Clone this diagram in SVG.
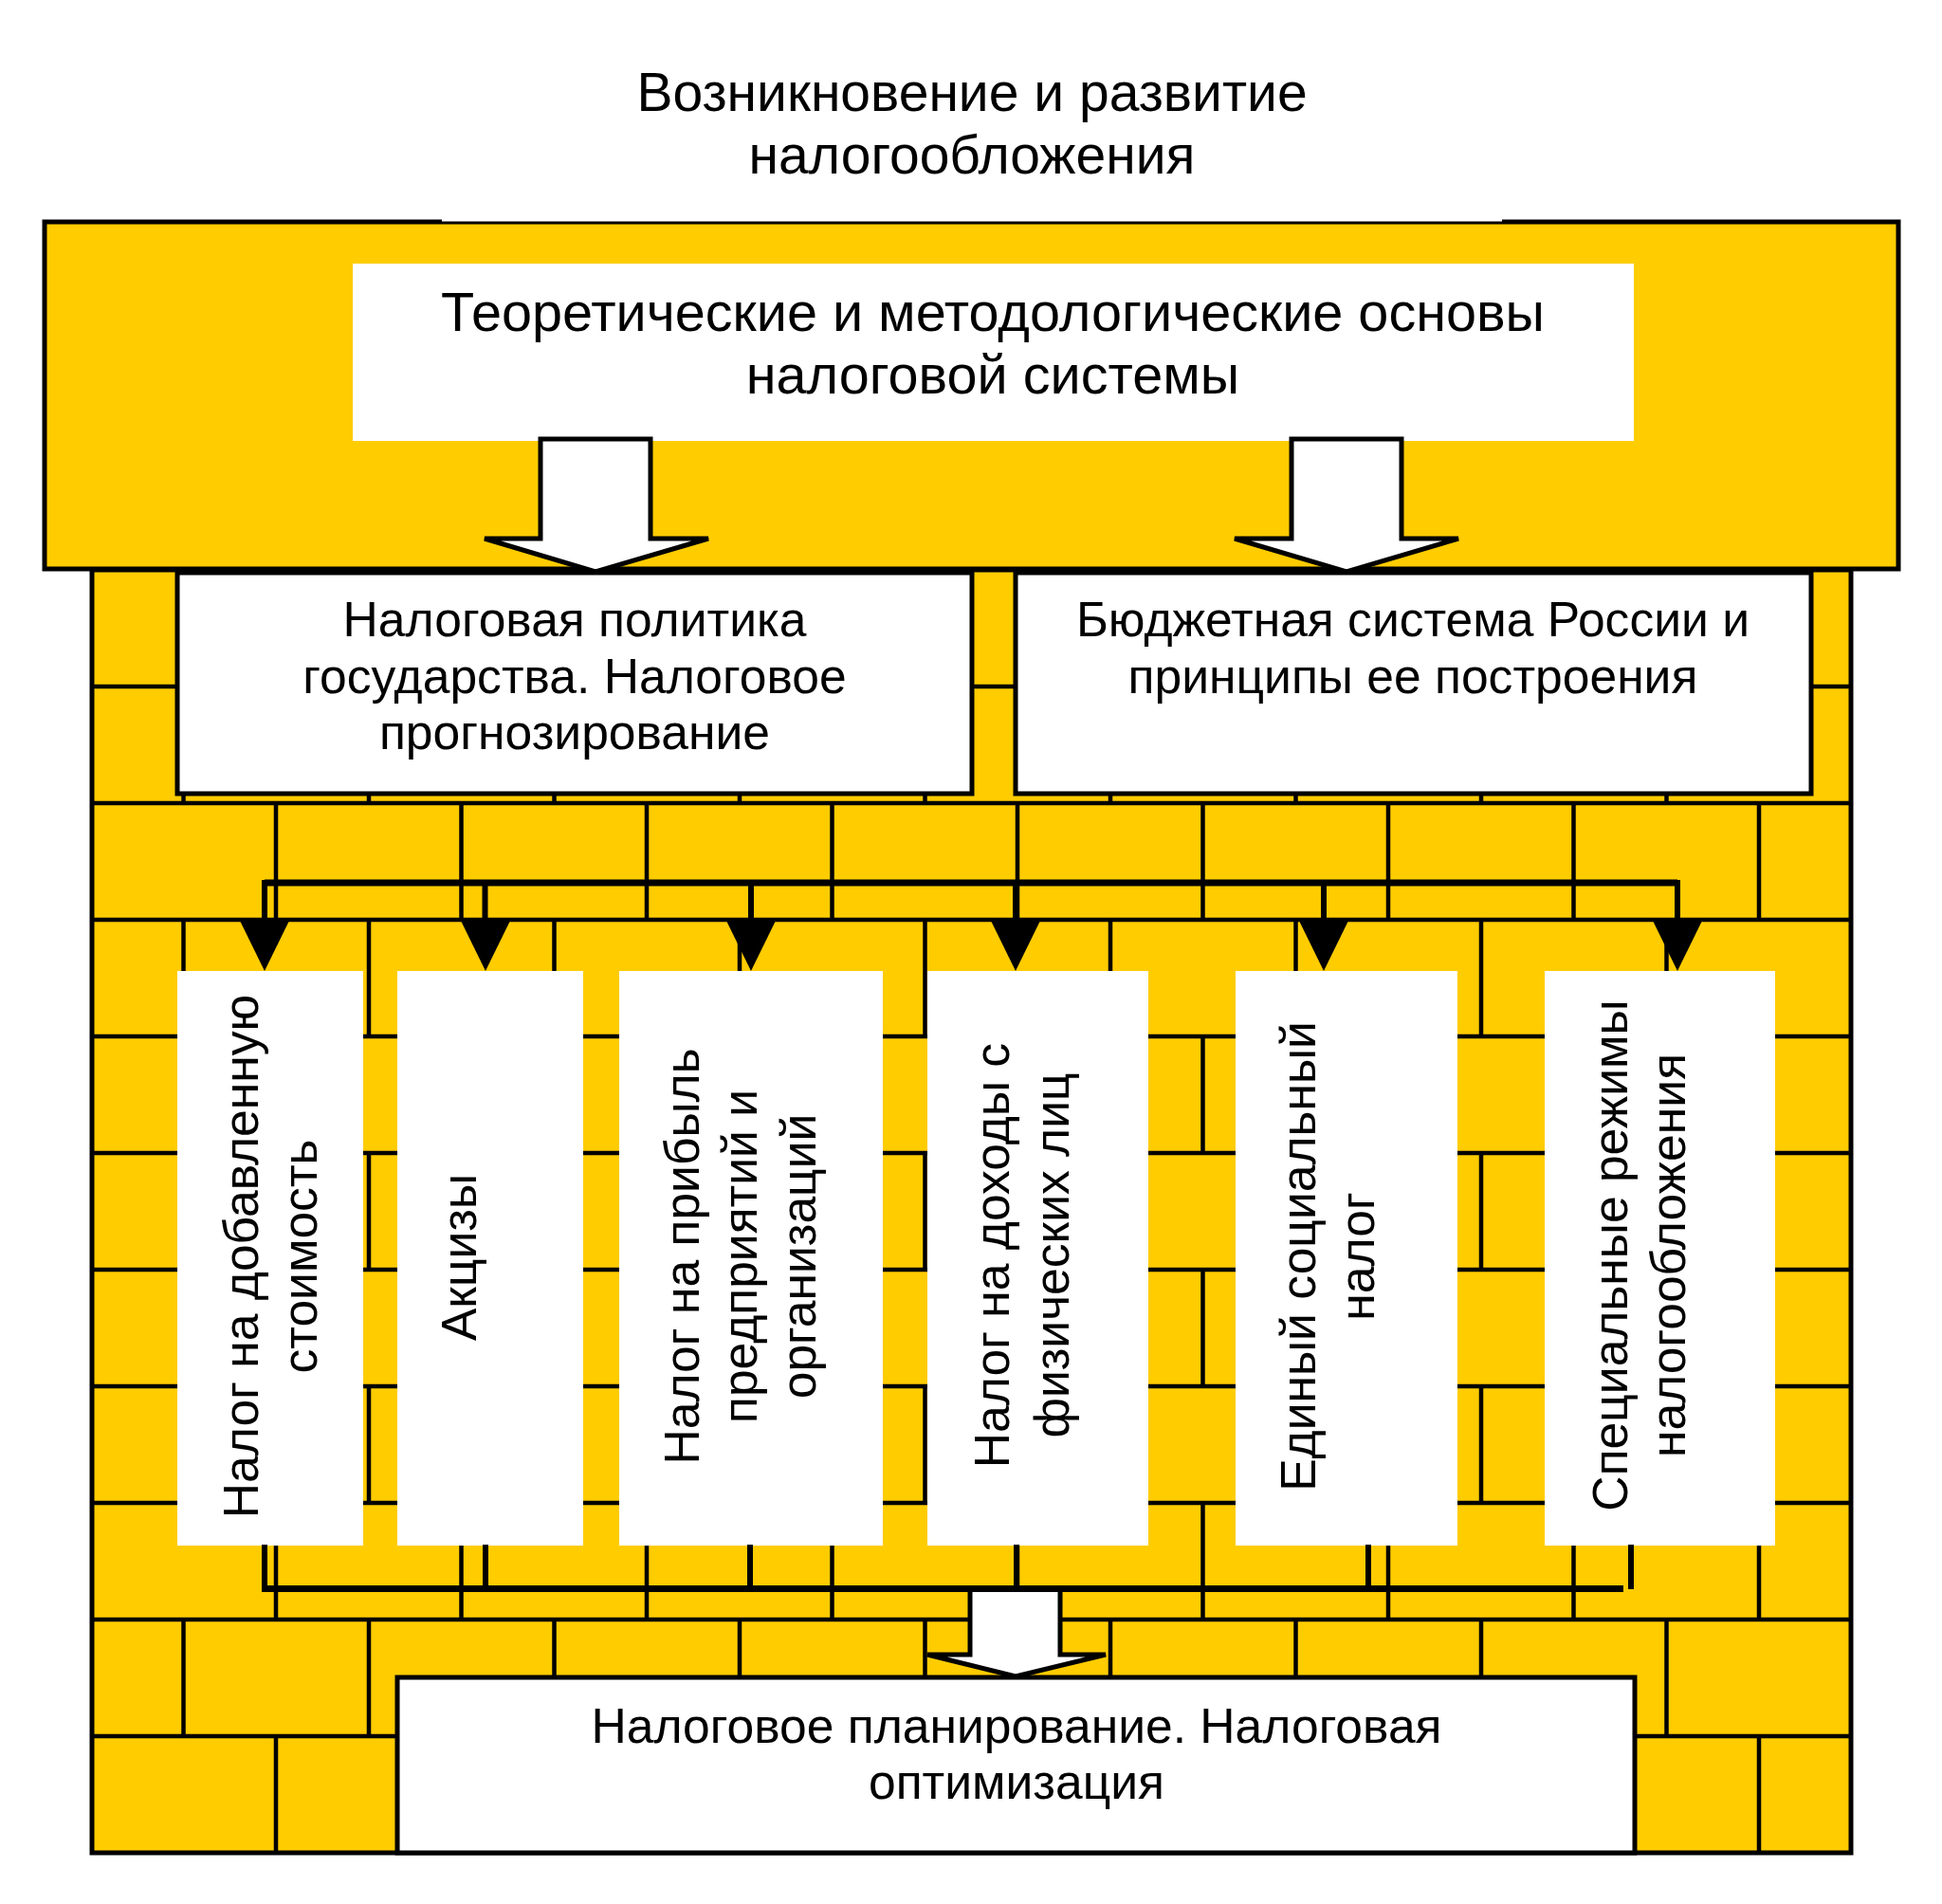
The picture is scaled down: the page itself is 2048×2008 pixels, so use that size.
<svg xmlns="http://www.w3.org/2000/svg" xmlns:xlink="http://www.w3.org/1999/xlink" width="2048" height="2008" viewBox="0 0 2048 2008">
  <style>
    .y { fill: #FFCC00; stroke: #000; stroke-width: 5; }
    .box { fill: #fff; stroke: #000; stroke-width: 5; }
    .plain { fill: #fff; stroke: none; }
    .mortar { fill: none; stroke: #000; stroke-width: 4.5; }
    .bus { fill: none; stroke: #000; stroke-width: 7; }
    .drop { fill: none; stroke: #000; stroke-width: 6; }
    .hollow { fill: #fff; stroke: #000; stroke-width: 5; stroke-linejoin: miter; }
    .head { fill: #000; stroke: none; }
    text { font-family: "Liberation Sans", Arial, sans-serif; fill: #000; text-anchor: middle; }
    .t56 { font-size: 57px; }
    .t57 { font-size: 57.6px; }
    .t51 { font-size: 51.6px; }
  </style>
  <defs>
    <path id="colB" d="M0 601V724M0 847V970M0 1093V1216M0 1339V1462M0 1585V1708M0 1831V1954"/>
    <path id="colA" d="M0 724V847M0 970V1093M0 1216V1339M0 1462V1585M0 1708V1831"/>
    <polygon id="tri" points="-26,971 26,971 0,1024"/>
  </defs>

  <rect x="0" y="0" width="2048" height="2008" fill="#fff"/>

  <g id="title">
    <text class="t56" x="1025" y="117">Возникновение и развитие</text>
    <text class="t56" x="1025" y="183">налогообложения</text>
  </g>

  <g id="wall">
    <rect class="y" x="97" y="601" width="1855" height="1353"/>
    <path class="mortar" d="M97 724H1952M97 847H1952M97 970H1952M97 1093H1952M97 1216H1952M97 1339H1952M97 1462H1952M97 1585H1952M97 1708H1952M97 1831H1952"/>
    <g class="mortar">
      <use xlink:href="#colB" x="291"/>
      <use xlink:href="#colB" x="486.5"/>
      <use xlink:href="#colB" x="682"/>
      <use xlink:href="#colB" x="877.5"/>
      <use xlink:href="#colB" x="1073"/>
      <use xlink:href="#colB" x="1268.5"/>
      <use xlink:href="#colB" x="1464"/>
      <use xlink:href="#colB" x="1659.5"/>
      <use xlink:href="#colB" x="1855"/>
      <use xlink:href="#colA" x="193.5"/>
      <use xlink:href="#colA" x="389"/>
      <use xlink:href="#colA" x="584.5"/>
      <use xlink:href="#colA" x="780"/>
      <use xlink:href="#colA" x="975.5"/>
      <use xlink:href="#colA" x="1171"/>
      <use xlink:href="#colA" x="1366.5"/>
      <use xlink:href="#colA" x="1562"/>
      <use xlink:href="#colA" x="1757.5"/>
    </g>
  </g>

  <g id="roof">
    <rect class="y" x="47" y="234" width="1955" height="366"/>
    <rect x="466" y="228" width="1118" height="5.5" fill="#fff"/>
  </g>

  <g id="osnovy">
    <rect class="plain" x="372" y="278" width="1351" height="187"/>
    <text class="t57" x="1047" y="349">Теоретические и методологические основы</text>
    <text class="t57" x="1047" y="415">налоговой системы</text>
  </g>

  <g id="politika">
    <rect class="box" x="187" y="604" width="838" height="233"/>
    <text class="t51" x="606" y="671">Налоговая политика</text>
    <text class="t51" x="606" y="731">государства. Налоговое</text>
    <text class="t51" x="606" y="790">прогнозирование</text>
  </g>

  <g id="byudzhet">
    <rect class="box" x="1071" y="604" width="839" height="233"/>
    <text class="t51" x="1490" y="671">Бюджетная система России и</text>
    <text class="t51" x="1490" y="731">принципы ее построения</text>
  </g>

  <g id="nds">
    <rect class="plain" x="187" y="1024" width="196" height="606"/>
    <text class="t51" transform="translate(0,1325) rotate(-90)"><tspan x="0" y="272">Налог на добавленную</tspan><tspan x="0" y="334">стоимость</tspan></text>
  </g>

  <g id="akcizy">
    <rect class="plain" x="419" y="1024" width="196" height="606"/>
    <text class="t51" transform="translate(0,1326) rotate(-90)"><tspan x="0" y="502">Акцизы</tspan></text>
  </g>

  <g id="pribyl">
    <rect class="plain" x="653" y="1024" width="278" height="606"/>
    <text class="t51" transform="translate(0,1325) rotate(-90)"><tspan x="0" y="737">Налог на прибыль</tspan><tspan x="0" y="798">предприятий и</tspan><tspan x="0" y="860">организаций</tspan></text>
  </g>

  <g id="ndfl">
    <rect class="plain" x="978" y="1024" width="233" height="606"/>
    <text class="t51" transform="translate(0,1324) rotate(-90)"><tspan x="0" y="1064">Налог на доходы с</tspan><tspan x="0" y="1127">физических лиц</tspan></text>
  </g>

  <g id="esn">
    <rect class="plain" x="1303" y="1024" width="234" height="606"/>
    <text class="t51" transform="translate(0,1325) rotate(-90)"><tspan x="0" y="1387">Единый социальный</tspan><tspan x="0" y="1449">налог</tspan></text>
  </g>

  <g id="specrezhimy">
    <rect class="plain" x="1629" y="1024" width="243" height="606"/>
    <text class="t51" transform="translate(0,1324) rotate(-90)"><tspan x="0" y="1716">Специальные режимы</tspan><tspan x="0" y="1777">налогообложения</tspan></text>
  </g>

  <g id="planirovanie">
    <rect class="box" x="419" y="1769" width="1305" height="185"/>
    <text class="t51" x="1072" y="1838">Налоговое планирование. Налоговая</text>
    <text class="t51" x="1072" y="1897">оптимизация</text>
  </g>

  <g id="connectors">
    <polygon class="hollow" points="570,463 686,463 686,568 747,568 628,603 511,568 570,568"/>
    <polygon class="hollow" points="1362,463 1478,463 1478,568 1538,568 1420,603 1302,568 1362,568"/>

    <path class="bus" d="M279 931H1769"/>
    <path class="drop" d="M279 928V972M511.5 928V972M792 928V972M1071 928V972M1396 928V972M1769 928V972"/>
    <use class="head" xlink:href="#tri" x="279"/>
    <use class="head" xlink:href="#tri" x="512"/>
    <use class="head" xlink:href="#tri" x="792"/>
    <use class="head" xlink:href="#tri" x="1071"/>
    <use class="head" xlink:href="#tri" x="1396"/>
    <use class="head" xlink:href="#tri" x="1769"/>

    <polygon class="hollow" points="1023,1676 1118,1676 1118,1745 1166,1745 1071,1768 978,1745 1023,1745"/>
    <path class="drop" d="M279 1629V1679M512 1629V1679M791 1629V1679M1072 1629V1679M1443 1629V1679M1720 1629V1676"/>
    <path class="bus" d="M279 1675.5H1712"/>
  </g>
</svg>
